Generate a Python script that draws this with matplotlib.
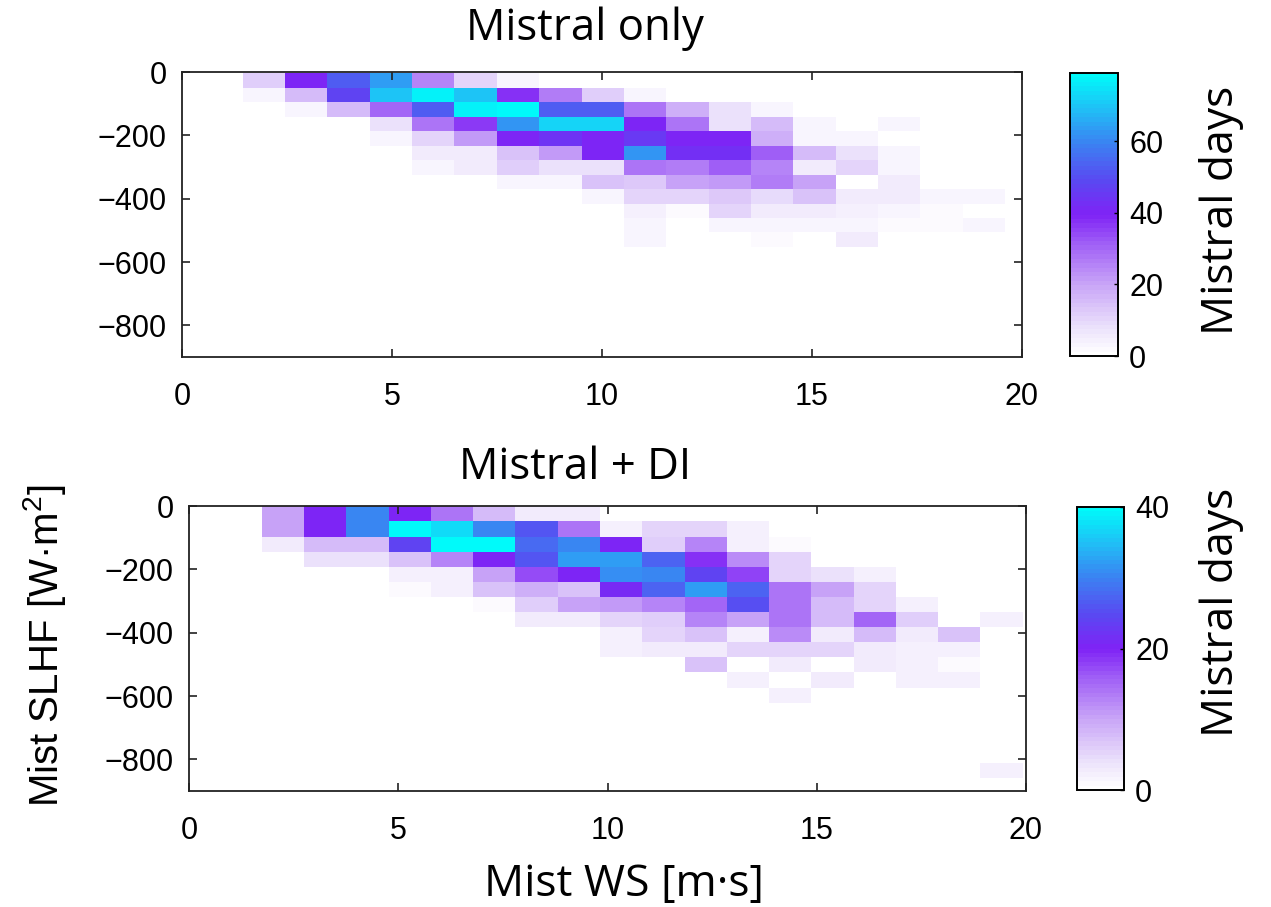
import numpy as np
import matplotlib.pyplot as plt
from matplotlib.colors import LinearSegmentedColormap

plt.rcParams['font.family'] = ['Liberation Sans', 'DejaVu Sans']
plt.rcParams['mathtext.fontset'] = 'custom'
plt.rcParams['mathtext.rm'] = 'Liberation Sans'
plt.rcParams['mathtext.it'] = 'Liberation Sans:italic'

# histogram bin edges: wind speed (m/s) and latent heat flux (W/m2)
ws_edges_only = np.linspace(1.445, 19.6, 19)
slhf_edges_only = np.linspace(-4, -552.4, 13)
ws_edges_di = np.linspace(1.74, 19.92, 19)
slhf_edges_di = np.linspace(-1, -859.6, 19)

# number of Mistral days per bin (rows: SLHF bins from 0 downward, cols: WS bins)
days_only = [
    [12, 40, 52, 64, 25, 10, 3, 0, 0, 0, 0, 0, 0, 0, 0, 0, 0, 0],
    [3, 15, 47, 70, 77, 70, 38, 26, 12, 3, 0, 0, 0, 0, 0, 0, 0, 0],
    [0, 3, 15, 30, 52, 77, 79, 52, 52, 28, 18, 8, 3, 0, 0, 0, 0, 0],
    [0, 0, 0, 8, 28, 36, 62, 72, 72, 40, 28, 8, 15, 3, 0, 3, 0, 0],
    [0, 0, 0, 3, 10, 22, 40, 44, 40, 45, 40, 40, 18, 3, 3, 0, 0, 0],
    [0, 0, 0, 0, 5, 5, 14, 22, 40, 62, 42, 42, 32, 16, 8, 3, 0, 0],
    [0, 0, 0, 0, 3, 5, 12, 8, 8, 28, 26, 32, 25, 6, 10, 3, 0, 0],
    [0, 0, 0, 0, 0, 0, 3, 3, 14, 13, 20, 22, 27, 20, 1, 5, 0, 0],
    [0, 0, 0, 0, 0, 0, 0, 0, 3, 10, 10, 13, 9, 14, 6, 5, 3, 3],
    [0, 0, 0, 0, 0, 0, 0, 0, 0, 4, 2, 10, 5, 5, 4, 3, 2, 0],
    [0, 0, 0, 0, 0, 0, 0, 0, 0, 3, 0, 3, 3, 3, 3, 2, 2, 3],
    [0, 0, 0, 0, 0, 0, 0, 0, 0, 3, 0, 0, 2, 0, 6, 0, 0, 0],
]

days_di = [
    [10, 20, 30, 20, 14, 8, 3, 3, 0, 0, 0, 0, 0, 0, 0, 0, 0, 0],
    [10, 20, 30, 40, 37, 30, 26, 14, 2, 5, 5, 2, 0, 0, 0, 0, 0, 0],
    [3, 8, 8, 24, 40, 40, 28, 30, 20, 6, 13, 2, 1, 0, 0, 0, 0, 0],
    [0, 4, 4, 7, 13, 20, 26, 32, 32, 27, 19, 12, 5, 0, 0, 0, 0, 0],
    [0, 0, 0, 2, 2, 10, 17, 20, 31, 30, 24, 18, 5, 4, 2, 0, 0, 0],
    [0, 0, 0, 1, 2, 7, 9, 7, 21, 27, 32, 27, 14, 10, 5, 0, 0, 0],
    [0, 0, 0, 0, 0, 1, 6, 10, 11, 13, 15, 25, 14, 8, 5, 2, 0, 0],
    [0, 0, 0, 0, 0, 0, 3, 3, 5, 6, 13, 10, 14, 8, 15, 6, 0, 2],
    [0, 0, 0, 0, 0, 0, 0, 0, 2, 5, 7, 2, 12, 3, 8, 3, 7, 0],
    [0, 0, 0, 0, 0, 0, 0, 0, 2, 3, 3, 5, 5, 5, 3, 2, 2, 0],
    [0, 0, 0, 0, 0, 0, 0, 0, 0, 0, 7, 0, 3, 0, 3, 2, 1, 0],
    [0, 0, 0, 0, 0, 0, 0, 0, 0, 0, 0, 2, 0, 3, 0, 2, 2, 0],
    [0, 0, 0, 0, 0, 0, 0, 0, 0, 0, 0, 0, 2, 0, 0, 0, 0, 0],
    [0, 0, 0, 0, 0, 0, 0, 0, 0, 0, 0, 0, 0, 0, 0, 0, 0, 0],
    [0, 0, 0, 0, 0, 0, 0, 0, 0, 0, 0, 0, 0, 0, 0, 0, 0, 0],
    [0, 0, 0, 0, 0, 0, 0, 0, 0, 0, 0, 0, 0, 0, 0, 0, 0, 0],
    [0, 0, 0, 0, 0, 0, 0, 0, 0, 0, 0, 0, 0, 0, 0, 0, 0, 0],
    [0, 0, 0, 0, 0, 0, 0, 0, 0, 0, 0, 0, 0, 0, 0, 0, 0, 2],
]

cbar_max_only = 79
cbar_max_di = 40
cbar_ticks_only = [0, 20, 40, 60]
cbar_ticks_di = [0, 20, 40]

cmap = LinearSegmentedColormap.from_list('mistral', [
    (0.0, '#FFFFFF'), (0.1, '#EADFFB'), (0.25, '#C8A4F7'), (0.4, '#9E5CF6'),
    (0.5, '#7F22F5'), (0.62, '#5A48F2'), (0.75, '#3C80F2'), (0.88, '#1FC0F6'),
    (1.0, '#00FAFA')], N=64)

title_font = ['Open Sans', 'DejaVu Sans']
W, H = 1271, 907

fig = plt.figure(figsize=(W / 100, H / 100), dpi=100)
ax1 = fig.add_axes([182 / W, 1 - 357 / H, 840 / W, 285 / H])
cax1 = fig.add_axes([1070 / W, 1 - 356 / H, 48 / W, 283 / H])
ax2 = fig.add_axes([189 / W, 1 - 791 / H, 837 / W, 285 / H])
cax2 = fig.add_axes([1077 / W, 1 - 790 / H, 47 / W, 283 / H])


def draw_panel(ax, cax, ws_edges, slhf_edges, days, vmax, cticks):
    z = np.ma.masked_equal(np.array(days, dtype=float), 0)
    m = ax.pcolormesh(ws_edges, slhf_edges, z, cmap=cmap, vmin=0, vmax=vmax)
    ax.set_xlim(0, 20)
    ax.set_ylim(-900, 0)
    ax.set_xticks([0, 5, 10, 15, 20])
    ax.set_yticks([-800, -600, -400, -200, 0])
    ax.tick_params(direction='in', top=True, right=True, length=6, width=1.2,
                   labelsize=22, color='#222222')
    ax.tick_params(axis='x', pad=18)
    ax.tick_params(axis='y', pad=11)
    for s in ax.spines.values():
        s.set_linewidth(1.3)
        s.set_color('#222222')
    cb = fig.colorbar(m, cax=cax, ticks=cticks)
    cb.outline.set_linewidth(1.4)
    cax.tick_params(direction='in', length=3, width=1, labelsize=22, pad=8)
    return m


draw_panel(ax1, cax1, ws_edges_only, slhf_edges_only, days_only, cbar_max_only, cbar_ticks_only)
draw_panel(ax2, cax2, ws_edges_di, slhf_edges_di, days_di, cbar_max_di, cbar_ticks_di)

fig.text(585 / W, 1 - 40 / H, 'Mistral only', ha='center', va='baseline',
         fontsize=31.5, family=title_font)
fig.text(575 / W, 1 - 479 / H, 'Mistral + DI', ha='center', va='baseline',
         fontsize=31.5, family=title_font)
fig.text(1222 / W, 1 - 210 / H, 'Mistral days', rotation=90, ha='center', va='center',
         fontsize=32, family=title_font)
fig.text(1222 / W, 1 - 612 / H, 'Mistral days', rotation=90, ha='center', va='center',
         fontsize=32, family=title_font)
fig.text(624 / W, 1 - 885 / H, 'Mist WS [m·s]', ha='center', va='center',
         fontsize=32, family=title_font)
fig.text(44 / W, 1 - 646 / H, 'Mist SLHF [W·m$^2$]', rotation=90, ha='center', va='center',
         fontsize=29)

fig.savefig('out.png', dpi=100)
